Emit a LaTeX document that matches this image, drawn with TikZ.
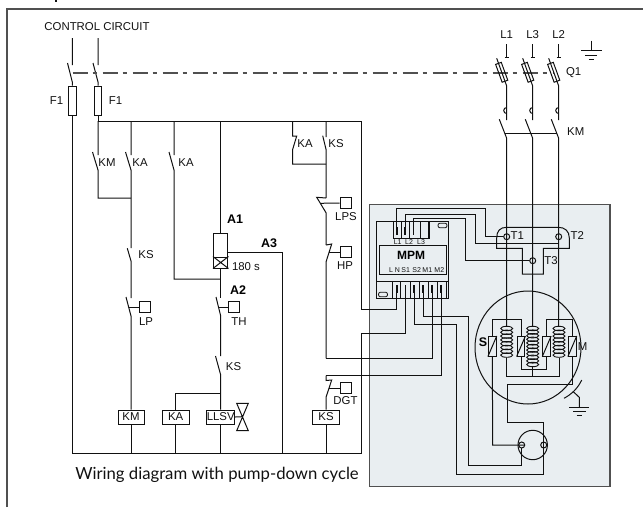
\documentclass[tikz,border=0pt]{standalone}
\usepackage{fontspec}
\setmainfont{Liberation Sans}
\newfontfamily\capfont{Lato}
\definecolor{ink}{HTML}{111111}
\definecolor{panelfill}{HTML}{E9EEF1}
\definecolor{edgegray}{HTML}{505050}
\tikzset{
  wire/.style={line width=1pt,draw=ink},
  frameline/.style={line width=1.15pt,draw=edgegray},
  lbl/.style={inner sep=0pt,text=ink,font=\fontsize{11.4}{11.4}\selectfont},
  boldlbl/.style={inner sep=0pt,text=black,font=\fontsize{12.5}{12.5}\selectfont\bfseries},
  tiny/.style={inner sep=0pt,text=ink,font=\fontsize{7}{7}\selectfont},
  fusebox/.style={draw=ink,line width=1pt,minimum width=7.5pt,minimum height=29pt,inner sep=0pt},
  qfuse/.style={draw=ink,line width=1pt,minimum width=6pt,minimum height=19pt,inner sep=0pt,rotate=20},
  relay/.style={draw=ink,line width=1pt,fill=white,minimum height=14pt,inner sep=0pt,text=ink,font=\fontsize{11.4}{11.4}\selectfont},
  sensor/.style={draw=ink,line width=1pt,minimum width=11.5pt,minimum height=11.5pt,inner sep=0pt},
  windbox/.style={draw=ink,line width=1pt,minimum width=7.8pt,minimum height=19.5pt,inner sep=0pt},
  term/.style={draw=ink,line width=1pt,circle,minimum size=6pt,inner sep=0pt},
  stub/.style={line width=1.8pt,draw=ink},
}
\begin{document}
\begin{tikzpicture}[x=1pt,y=-1pt]
\useasboundingbox (0,0) rectangle (643,507);
% frame
\draw[frameline] (7,507) -- (7,9) -- (643,9);
\fill[ink] (55,0) rectangle (57,2);
% panel
\node[draw=edgegray,fill=panelfill,line width=1.15pt,minimum width=240.5pt,minimum height=282pt,inner sep=0pt] (panel) at (489.7,345.5) {};
% texts
\node[lbl] (ctrl) at (97,27) {CONTROL CIRCUIT};
\node[lbl] at (56.5,100.5) {F1};
\node[lbl] at (115.5,100.5) {F1};
\node[lbl] at (107,163) {KM};
\node[lbl] at (140,163) {KA};
\node[lbl] at (186,163) {KA};
\node[lbl] at (146,255) {KS};
\node[lbl] at (146,322) {LP};
\node[lbl] at (239,322) {TH};
\node[lbl] at (233.5,367) {KS};
\node[boldlbl] at (235,219) {A1};
\node[boldlbl] at (269,243) {A3};
\node[boldlbl] at (238,290) {A2};
\node[lbl] at (246,267) {180 s};
\node[lbl] at (305,144) {KA};
\node[lbl] at (336,144) {KS};
\node[lbl] at (346,217) {LPS};
\node[lbl] at (345,266) {HP};
\node[lbl] at (345.5,401) {DGT};
\node[lbl] at (506.7,35) {L1};
\node[lbl] at (532.7,35) {L3};
\node[lbl] at (558.7,35) {L2};
\node[lbl] at (573.7,73) {Q1};
\node[lbl] at (575.7,132) {KM};
\node[lbl] at (517.3,236) {T1};
\node[lbl] at (577.3,236) {T2};
\node[lbl] at (551,261) {T3};
\node[boldlbl] at (483,342.5) {S};
\node[lbl] at (582.7,346.7) {M};
\node[inner sep=0pt,text=ink,font=\capfont\fontsize{16.7}{16.7}\selectfont] (caption) at (217,475) {Wiring diagram with pump-down cycle};
% control fuses
\node[fusebox] (f1a) at (72.3,100.5) {};
\node[fusebox] (f1b) at (98,100.5) {};
% rails
\coordinate (railTL) at (98,121);
\coordinate (railTR) at (361,121);
\coordinate (railLup) at (361,309);
\coordinate (railNlo) at (361,333);
\coordinate (railBR) at (361,453);
\coordinate (railBL) at (72.3,453);
\draw[wire] (f1b.south) -- (railTL) -- (railTR) -- (railLup) -- (396.7,309) -- (396.7,298.3);
\draw[wire] (f1a.south) -- (railBL) -- (railBR) -- (railNlo) -- (405.5,333) -- (405.5,298.3);
% incoming
\draw[wire] (72.3,38) -- (72.3,65) (67.5,63) -- (72.3,82) -- (f1a.north);
\draw[wire] (98,38) -- (98,65) (93,63) -- (98,82) -- (f1b.north);
\draw[draw=edgegray,line width=1.1pt,dash pattern=on 15pt off 5pt on 4pt off 6pt] (72.7,73) -- (553,73);
% relays
\node[relay,minimum width=26pt] (kmR) at (131,417) {KM};
\node[relay,minimum width=27pt] (kaR) at (175.7,417) {KA};
\node[relay,minimum width=27.5pt] (llsv) at (220.7,417) {LLSV};
\node[relay,minimum width=26.5pt] (ksR) at (326,417) {KS};
% branch KM / KA / KS / LP
\draw[wire] (98,121) -- (98,155) (92.5,152) -- (98,170) -- (98,198) -- (131,198);
\draw[wire] (131,121) -- (131,155) (125.5,152) -- (131,170) -- (131,248);
\draw[wire] (127.3,248.3) -- (131,261) -- (131,298);
\draw[wire] (126,297) -- (131,316) -- (kmR.north);
\node[sensor] (lp) at (145,307) {};
\draw[wire] (128.6,307) -- (lp.west);
\draw[wire] (kmR.south) -- (131,453);
% branch KA to A2
\draw[wire] (174,121) -- (174,155) (169,152) -- (174,170) -- (174,279) -- (220.7,279);
% A1 coil
\node[draw=ink,line width=1pt,minimum width=14.5pt,minimum height=24pt,inner sep=0pt] (coil) at (220.7,245) {};
\node[draw=ink,line width=1pt,minimum width=14.5pt,minimum height=11pt,inner sep=0pt] (delay) at (220.7,262.5) {};
\draw[wire] (delay.north west) -- (delay.south east) (delay.north east) -- (delay.south west);
\draw[wire] (220.7,121) -- (coil.north);
\coordinate (a3end) at (282.3,252.7);
\draw[wire] (228,252.7) -- (a3end) -- (282.3,453);
\draw[wire] (delay.south) -- (220.7,298);
\draw[wire] (216,297) -- (220.7,316) -- (220.7,356);
\node[sensor] (th) at (234,307) {};
\draw[wire] (218.3,307) -- (th.west);
\draw[wire] (215.5,356) -- (220.7,375) -- (llsv.north);
\draw[wire] (llsv.south) -- (220.7,453);
\draw[wire] (220.7,393) -- (175.7,393) -- (kaR.north);
\draw[wire] (kaR.south) -- (175.7,453);
% valve
\coordinate (valve) at (242.3,416.7);
\draw[wire] (llsv.east) -- (valve);
\draw[wire] (236.7,403.3) -- (248.3,403.3) -- (236.7,430.7) -- (248.3,430.7) -- cycle;
% KA / KS right
\draw[wire] (292.7,121) -- (292.7,136) -- (296.7,136) -- (292.7,149.3) -- (292.7,164) -- (326,164);
\draw[wire] (326,121) -- (326,137) (322.7,135.7) -- (326,149.3) -- (326,198);
\draw[wire] (326,198) -- (316.7,197.3) -- (326,212.7) -- (326,245);
\node[sensor] (lps) at (345.8,203) {};
\draw[wire] (320.3,203.3) -- (lps.west);
\draw[wire] (326,245) -- (331.7,244) -- (326,262) -- (326,358.3);
\node[sensor] (hp) at (345.8,252) {};
\draw[wire] (329,252) -- (hp.west);
% DGT
\draw[wire] (326,375.7) -- (326,380.5) -- (331.7,380) -- (326,397.3) -- (ksR.north);
\node[sensor] (dgt) at (345.8,388.2) {};
\draw[wire] (329,388.2) -- (dgt.west);
\draw[wire] (ksR.south) -- (326,453);
% MPM
\node[draw=ink,line width=1pt,minimum width=71.6pt,minimum height=76.6pt,inner sep=0pt] (mpm) at (412.5,260) {};
\node[draw=ink,line width=1pt,minimum width=67.4pt,minimum height=28.6pt,inner sep=0pt] (mpminner) at (413,260) {};
\node[inner sep=0pt,text=black,font=\fontsize{12}{12}\selectfont\bfseries] at (411,255) {MPM};
\foreach \x/\t in {391/L,397.3/N,405.7/S1,416.7/S2,427.3/M1,439.3/M2} \node[tiny] at (\x,269.7) {\t};
\foreach \x/\t in {397.7/L1,409/L2,421/L3} \node[tiny] at (\x,241.7) {\t};
\node[draw=ink,line width=1pt,minimum width=36.5pt,minimum height=16.6pt,inner sep=0pt] (topblock) at (411.5,230) {};
\draw[wire] (401.2,221.7) -- (401.2,238.3) (409.5,221.7) -- (409.5,238.3) (420,221.7) -- (420,238.3) (428.3,221.7) -- (428.3,238.3);
\draw[wire] (376.7,281.7) -- (448.3,281.7);
\foreach \x in {392.3,400.7,410,419.3,428.3,437.3,446.8} \draw[wire] (\x,281.7) -- (\x,298.3);
\foreach \x in {396.7,405.5,414.3,423.3,432.3,441.3} \draw[stub] (\x,285) -- (\x,293);
\foreach \x in {396.7,405.5,414.3,423.3,432.3,441.3} \draw[wire] (\x,293) -- (\x,298.3);
\draw[stub] (396.7,227) -- (396.7,235);
\draw[stub] (405,227) -- (405,235);
\draw[stub] (413.5,227) -- (413.5,235);
\node[draw=ink,line width=0.8pt,minimum width=9pt,minimum height=4.6pt,inner sep=0pt,rounded corners=2pt] (iconA) at (442.5,225.5) {};
\node[draw=ink,line width=0.8pt,minimum width=9pt,minimum height=4.6pt,inner sep=0pt,rounded corners=2pt] (iconB) at (383,294.5) {};
% T block
\node[term] (t1) at (506.7,236.7) {};
\node[term] (t2) at (558.7,236.7) {};
\node[term] (t3) at (532.7,260.7) {};
\draw[wire] (506.7,227.3) -- (558,227.3) .. controls (565,227.3) and (569.3,231) .. (569.3,238) -- (569.3,248.3) -- (543.3,248.3) -- (543.3,274) -- (522.3,274) -- (522.3,248.3) -- (496.7,248.3) -- (496.7,238) .. controls (496.7,231) and (500,227.3) .. (506.7,227.3);
% wires top block
\draw[wire] (396.7,227) -- (396.7,208.3) -- (485,208.3) -- (485,236.7) -- (t1.west);
\draw[wire] (405,227) -- (405,214.3) -- (475,214.3) -- (475,243.3) -- (558.7,243.3);
\draw[wire] (413.5,227) -- (413.5,218.3) -- (465,218.3) -- (465,260.7) -- (t3.west);
% lower block wires
\draw[wire] (414.3,298.3) -- (414.3,324.3) -- (456.7,324.3) -- (456.7,474.3) -- (543.7,474.3) -- (543.7,422.7) -- (507,422.7) -- (507,384) -- (571.7,384);
\draw[wire] (423.3,298.3) -- (423.3,316) -- (468.7,316) -- (468.7,465) -- (521.7,465) -- (521.7,448);
\draw[wire] (432.3,298.3) -- (432.3,358.3) -- (326,358.3);
\draw[wire] (441.3,298.3) -- (441.3,375.7) -- (326,375.7);
% mains
\foreach \x/\b in {506.7/496.7,532.7/522.7,558.7/548.7}{
  \draw[wire] (\x,44.3) -- (\x,57.7) (\x-2,57.7) -- (\x+2,57.7);
  \draw[wire] (\b,58.3) -- (\x,86) -- (\x,120);
  \draw[wire] (\x,113.5) arc[start angle=90,end angle=270,radius=3];
  \draw[wire] (\b+2.6,119.3) -- (\x,138.3) -- (\x,326.7);
}
\node[qfuse] (q1) at (501.7,72.3) {};
\node[qfuse] (q2) at (527.7,72.3) {};
\node[qfuse] (q3) at (553.7,72.3) {};
\draw[wire] (505.3,133.3) -- (556.7,133.3);
% ground top
\draw[wire] (591,40.7) -- (591,50.7) (581,50.7) -- (601.7,50.7) (585,55) -- (597.3,55) (588.7,59) -- (594,59);
% motor
\draw[wire] (528,347.5) ellipse[x radius=53,y radius=56.5];
\foreach \x in {506.7,559}{\foreach \i in {0,...,7}{\draw[line width=0.9pt,draw=ink] (\x,328.5+\i*3.8) ellipse[x radius=6,y radius=2.2];}}
\foreach \i in {0,...,10}{\draw[line width=0.9pt,draw=ink] (532.7,328.5+\i*3.6) ellipse[x radius=6,y radius=2.2];}
\draw[wire] (506.7,358) -- (506.7,376.7) -- (559,376.7) -- (559,358);
\draw[wire] (532.7,367) -- (532.7,376.7);
\node[windbox] (ws) at (492.3,346.3) {};
\node[windbox] (w1) at (521,346.3) {};
\node[windbox] (w2) at (546.7,346.3) {};
\node[windbox] (wm) at (572.3,346.3) {};
\foreach \n in {ws,w1,w2,wm}\draw[wire] (\n.south west) -- (\n.north east);
\draw[wire] (ws.north) -- (492.3,319.3) -- (521,319.3) -- (w1.north);
\draw[wire] (w1.south) -- (521,369) -- (546.7,369) -- (w2.south);
\draw[wire] (w2.north) -- (546.7,319.3) -- (572.3,319.3) -- (wm.north);
\draw[wire] (wm.south) -- (572.3,384) -- (571.7,384);
% compressor
\node[term] (cl) at (521.7,445) {};
\node[term] (cr) at (543.7,445) {};
\draw[wire] (532.7,445) circle[radius=14.7];
\draw[wire] (ws.south) -- (492.7,445) -- (cl.east);
% earth
\draw[wire] (564,398.3) .. controls (572,394) and (578,388) .. (581.7,380);
\coordinate (gnd) at (579.3,407.7);
\draw[wire] (573.3,391.7) -- (579.3,397.3) -- (gnd);
\draw[wire] (569.3,407.7) -- (589.3,407.7) (573.3,411) -- (585.7,411) (576.7,415) -- (582.3,415);
\end{tikzpicture}
\end{document}
